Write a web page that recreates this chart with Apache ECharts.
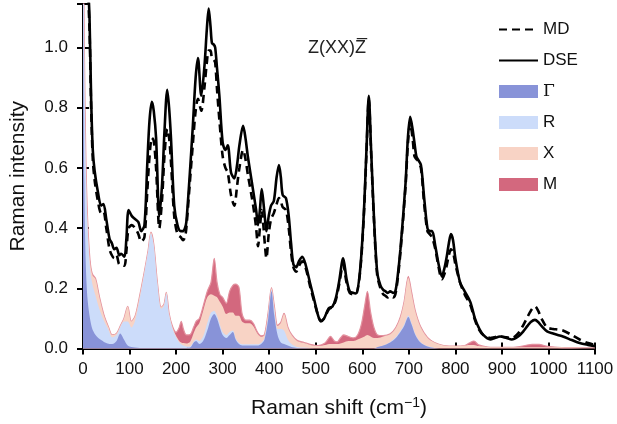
<!DOCTYPE html>
<html>
<head>
<meta charset="utf-8">
<script src="https://cdn.jsdelivr.net/npm/echarts@6.0.0/dist/echarts.min.js"></script>
<style>
  html, body { margin: 0; padding: 0; background: #fff; }
  #raman { width: 617px; height: 424px; }
</style>
</head>
<body>
<div id="raman"></div>
<script>
// total spectra (MD / DSE), Raman shift in cm^-1
var ramanShift = [5, 10, 14, 17.5, 21, 25, 32, 39, 44, 50, 57, 62, 67, 72, 78, 82, 89, 93, 98, 105,
  112, 119, 125, 132, 138, 143, 148, 152, 157, 164, 170, 175, 181, 185, 189, 196, 203, 210, 215, 219,
  222, 229, 236, 242, 247, 254, 261, 266, 270, 274, 277, 281, 284, 288, 293, 300, 306, 311, 318, 325,
  331, 336, 344, 349, 354, 363, 368, 372, 376, 380, 384, 388, 391, 394, 399, 404, 410, 416, 421, 425,
  429, 436, 442, 447, 452, 458, 464, 471, 478, 489, 496, 505, 511, 518, 528, 536, 543, 550, 559, 566,
  573, 580, 586, 595, 603, 609, 614, 619, 625, 632, 639, 645, 650, 655, 660, 666, 671, 676, 682, 693,
  698, 703, 708, 712, 716, 719, 726, 733, 740, 745, 750, 757, 764, 771, 777, 782, 786, 790.5, 795, 800,
  810, 820, 832, 842, 850, 860, 875, 885, 896, 910, 921, 935, 946, 955, 962, 971, 978, 985, 997, 1010,
  1020, 1031, 1050, 1067, 1085, 1100];
var dse = [1.6, 1.25, 1.1, 0.83, 0.66, 0.59, 0.52, 0.475, 0.48, 0.43, 0.365, 0.35, 0.33, 0.335, 0.31, 0.315, 0.305, 0.36, 0.46, 0.44,
  0.43, 0.42, 0.39, 0.41, 0.61, 0.76, 0.82, 0.79, 0.70, 0.44, 0.55, 0.72, 0.86, 0.80, 0.70, 0.475, 0.41, 0.39, 0.39, 0.40,
  0.42, 0.57, 0.74, 0.90, 0.965, 0.84, 0.94, 1.06, 1.13, 1.07, 1.015, 1.01, 1.0, 0.93, 0.84, 0.685, 0.66, 0.675, 0.585, 0.565,
  0.61, 0.675, 0.74, 0.70, 0.64, 0.55, 0.50, 0.46, 0.41, 0.46, 0.53, 0.48, 0.43, 0.39, 0.44, 0.475, 0.49, 0.57, 0.61, 0.57,
  0.51, 0.50, 0.44, 0.35, 0.28, 0.27, 0.29, 0.305, 0.28, 0.21, 0.167, 0.11, 0.09, 0.10, 0.134, 0.14, 0.167, 0.22, 0.30, 0.233,
  0.19, 0.185, 0.183, 0.255, 0.44, 0.66, 0.84, 0.66, 0.44, 0.255, 0.21, 0.195, 0.19, 0.185, 0.19, 0.185, 0.19, 0.24, 0.33, 0.55,
  0.70, 0.77, 0.73, 0.685, 0.64, 0.63, 0.61, 0.50, 0.40, 0.39, 0.39, 0.34, 0.28, 0.24, 0.27, 0.31, 0.35, 0.38, 0.36, 0.30,
  0.22, 0.19, 0.155, 0.10, 0.07, 0.045, 0.03, 0.035, 0.04, 0.035, 0.03, 0.04, 0.057, 0.075, 0.088, 0.095, 0.088, 0.075, 0.057, 0.05,
  0.045, 0.04, 0.028, 0.018, 0.012, 0.008];
var md = [1.6, 1.22, 1.06, 0.80, 0.63, 0.56, 0.49, 0.45, 0.455, 0.40, 0.33, 0.31, 0.30, 0.31, 0.28, 0.28, 0.275, 0.32, 0.40, 0.41,
  0.40, 0.38, 0.355, 0.37, 0.52, 0.64, 0.70, 0.69, 0.60, 0.40, 0.50, 0.64, 0.73, 0.70, 0.62, 0.44, 0.38, 0.37, 0.36, 0.37,
  0.40, 0.54, 0.68, 0.79, 0.83, 0.79, 0.87, 0.95, 0.99, 0.99, 0.965, 0.96, 0.95, 0.86, 0.76, 0.64, 0.60, 0.585, 0.51, 0.475,
  0.54, 0.60, 0.66, 0.63, 0.58, 0.50, 0.45, 0.40, 0.34, 0.40, 0.46, 0.40, 0.34, 0.30, 0.38, 0.43, 0.45, 0.48, 0.50, 0.49,
  0.47, 0.46, 0.40, 0.32, 0.27, 0.255, 0.275, 0.29, 0.27, 0.20, 0.16, 0.11, 0.092, 0.10, 0.13, 0.138, 0.16, 0.21, 0.28, 0.22,
  0.185, 0.18, 0.18, 0.25, 0.43, 0.65, 0.83, 0.65, 0.43, 0.245, 0.20, 0.18, 0.175, 0.17, 0.175, 0.17, 0.18, 0.23, 0.32, 0.54,
  0.68, 0.75, 0.70, 0.64, 0.63, 0.625, 0.60, 0.48, 0.39, 0.38, 0.37, 0.33, 0.27, 0.23, 0.25, 0.28, 0.31, 0.33, 0.32, 0.28,
  0.22, 0.18, 0.145, 0.095, 0.065, 0.045, 0.035, 0.038, 0.04, 0.037, 0.035, 0.05, 0.078, 0.105, 0.125, 0.14, 0.125, 0.10, 0.07, 0.065,
  0.063, 0.06, 0.045, 0.03, 0.018, 0.012];

// q-point resolved contributions, shared shift grid (drawn cumulatively)
var modeShift = [0, 3, 6, 10, 15, 20, 27, 35, 45, 55, 63, 72, 80, 88, 96, 104, 112, 122, 132, 140,
  146, 152, 160, 168, 174, 179, 185, 192, 200, 206, 211, 216, 222, 230, 238, 243, 250, 258, 267, 275,
  282, 288, 294, 300, 308, 315, 322, 328, 335, 342, 350, 358, 366, 375, 383, 390, 398, 405, 411, 418,
  425, 432, 440, 448, 460, 475, 490, 505, 520, 532, 540, 546, 553, 560, 570, 581, 590, 598, 605, 611,
  618, 625, 633, 645, 660, 672, 682, 690, 699, 706, 714, 725, 740, 755, 775, 800, 820, 830, 840, 850,
  870, 900, 930, 950, 965, 980, 995, 1020, 1050, 1100];
var gammaPt = [1.2, 0.55, 0.28, 0.16, 0.10, 0.065, 0.045, 0.032, 0.022, 0.016, 0.015, 0.025, 0.05, 0.03, 0.01, 0.005, 0.003, 0.002, 0.002, 0.002,
  0.002, 0.002, 0.002, 0.002, 0.002, 0.002, 0.002, 0.002, 0.002, 0.002, 0.002, 0.002, 0.002, 0.003, 0.02, 0.025, 0.015, 0.025, 0.06, 0.10,
  0.115, 0.10, 0.07, 0.045, 0.035, 0.045, 0.055, 0.03, 0.015, 0.01, 0.01, 0.01, 0.01, 0.01, 0.015, 0.03, 0.10, 0.19, 0.11, 0.045,
  0.02, 0.015, 0.01, 0.005, 0.002, 0.001, 0, 0, 0, 0, 0, 0, 0, 0, 0, 0, 0, 0, 0, 0,
  0, 0, 0.005, 0.01, 0.02, 0.035, 0.055, 0.075, 0.105, 0.08, 0.045, 0.02, 0.007, 0.002, 0, 0, 0, 0, 0, 0,
  0, 0, 0, 0, 0, 0, 0, 0, 0, 0];
var rPt = [0.30, 0.40, 0.33, 0.24, 0.17, 0.15, 0.13, 0.10, 0.07, 0.045, 0.022, 0.02, 0.02, 0.06, 0.08, 0.065, 0.09, 0.165, 0.25, 0.32,
  0.38, 0.34, 0.21, 0.13, 0.14, 0.18, 0.11, 0.065, 0.035, 0.02, 0.012, 0.008, 0.005, 0.004, 0.004, 0.005, 0.01, 0.015, 0.025, 0.02,
  0.01, 0.01, 0.01, 0.01, 0.01, 0.01, 0.005, 0.004, 0.004, 0.004, 0.004, 0.004, 0.004, 0.004, 0.004, 0.005, 0.01, 0.005, 0.02, 0.02,
  0.045, 0.045, 0.02, 0.01, 0.003, 0.002, 0.001, 0, 0, 0, 0, 0, 0, 0, 0, 0, 0, 0, 0, 0,
  0, 0, 0, 0, 0.002, 0.003, 0.004, 0.005, 0.005, 0.004, 0.003, 0.002, 0.001, 0, 0, 0, 0, 0, 0, 0,
  0, 0, 0, 0, 0, 0, 0, 0, 0, 0];
var xPt = [0, 0.02, 0.02, 0.02, 0.02, 0.03, 0.055, 0.04, 0.018, 0.01, 0.008, 0.005, 0.005, 0.01, 0.05, 0.02, 0.015, 0.01, 0.005, 0.005,
  0.005, 0.005, 0.005, 0.005, 0.005, 0.005, 0.005, 0.005, 0.005, 0.005, 0.006, 0.008, 0.01, 0.015, 0.028, 0.04, 0.06, 0.085, 0.085, 0.06,
  0.05, 0.06, 0.075, 0.085, 0.07, 0.065, 0.06, 0.075, 0.09, 0.075, 0.07, 0.07, 0.06, 0.035, 0.02, 0.01, 0.01, 0.005, 0.01, 0.01,
  0.02, 0.055, 0.04, 0.03, 0.02, 0.015, 0.01, 0.008, 0.012, 0.015, 0.015, 0.015, 0.017, 0.02, 0.025, 0.025, 0.03, 0.035, 0.04, 0.045,
  0.04, 0.035, 0.03, 0.03, 0.025, 0.03, 0.045, 0.075, 0.125, 0.10, 0.075, 0.05, 0.028, 0.018, 0.01, 0.008, 0.01, 0.012, 0.012, 0.008,
  0.005, 0.004, 0.004, 0.004, 0.004, 0.004, 0.004, 0.004, 0.003, 0.002];
var mPt = [0, 0.01, 0.01, 0.005, 0.005, 0.003, 0.003, 0.002, 0.002, 0, 0, 0, 0, 0, 0, 0, 0, 0, 0, 0,
  0, 0, 0, 0, 0, 0, 0, 0.003, 0.012, 0.04, 0.07, 0.045, 0.028, 0.024, 0.02, 0.02, 0.015, 0.015, 0.02, 0.04,
  0.125, 0.05, 0.025, 0.03, 0.035, 0.07, 0.09, 0.105, 0.095, 0.025, 0.01, 0.01, 0.01, 0.005, 0.003, 0.002, 0.002, 0.002, 0.002, 0.002,
  0.002, 0.002, 0.002, 0.002, 0.002, 0.002, 0.002, 0.002, 0.006, 0.025, 0.01, 0.007, 0.018, 0.025, 0.015, 0.01, 0.015, 0.045, 0.10, 0.145,
  0.08, 0.035, 0.01, 0.003, 0.002, 0.002, 0.002, 0.002, 0.005, 0.003, 0.002, 0.002, 0.001, 0, 0, 0, 0, 0.006, 0.013, 0.004,
  0, 0, 0.001, 0.006, 0.01, 0.01, 0.004, 0, 0, 0];

var xTicks = [0, 100, 200, 300, 400, 500, 600, 700, 800, 900, 1000, 1100];
var yTicks = [0.0, 0.2, 0.4, 0.6, 0.8, 1.0];

var font = 'Liberation Sans';
var colGamma = '#8893d8', colR = '#ccdcfa', colX = '#f8d3c5', colM = '#d3687e';

// running sums: each layer is drawn from zero, upper layers underneath
var cumG = gammaPt.slice();
var cumR = cumG.map(function (v, i) { return v + rPt[i]; });
var cumX = cumR.map(function (v, i) { return v + xPt[i]; });
var cumM = cumX.map(function (v, i) { return v + mPt[i]; });

function pairs(xs, ys) {
  return xs.map(function (x, i) { return [x, ys[i]]; });
}

function layer(name, vals, color, z, edge) {
  return {
    name: name,
    type: 'line',
    smooth: 0.3,
    symbol: 'none',
    z: z,
    data: pairs(modeShift, vals),
    itemStyle: { color: color },
    lineStyle: edge ? { color: '#e3919e', width: 1.2 } : { width: 0 },
    areaStyle: { color: color, opacity: 1, origin: 'start' }
  };
}

var frameAxis = {
  axisLine: { lineStyle: { color: '#000', width: 2 } },
  axisTick: { inside: true, length: 6, lineStyle: { color: '#000', width: 2 } },
  splitLine: { show: false }
};

var chart = echarts.init(document.getElementById('raman'));
chart.setOption({
  animation: false,
  textStyle: { fontFamily: font },
  grid: { left: 81, right: 22, top: 4, bottom: 74 },
  legend: {
    orient: 'vertical',
    left: 493,
    top: 16,
    itemWidth: 39,
    itemHeight: 13,
    itemGap: 14,
    textStyle: {
      fontFamily: font, fontSize: 17, color: '#111',
      rich: { g: { fontFamily: 'DejaVu Serif', fontSize: 17, color: '#111' } }
    },
    formatter: function (n) { return n === 'Γ' ? '{g|Γ}' : n; },
    data: [
      { name: 'MD', itemStyle: { opacity: 0 } },
      { name: 'DSE', itemStyle: { opacity: 0 } },
      { name: 'Γ', icon: 'rect', itemStyle: { color: colGamma, borderWidth: 0 } },
      { name: 'R', icon: 'rect', itemStyle: { color: colR, borderWidth: 0 } },
      { name: 'X', icon: 'rect', itemStyle: { color: colX, borderWidth: 0 } },
      { name: 'M', icon: 'rect', itemStyle: { color: colM, borderWidth: 0 } }
    ]
  },
  graphic: [{
    type: 'text',
    left: 308,
    top: 39,
    z: 100,
    style: { text: 'Z(XX)Z\u0305', font: '18px "Liberation Sans"', fill: '#222' }
  }],
  xAxis: [
    Object.assign({
      type: 'value', position: 'bottom', min: xTicks[0], max: xTicks[xTicks.length - 1], interval: 100,
      axisLabel: { fontSize: 17, color: '#111', margin: 12, formatter: function (v) { return String(v); } },
      name: 'Raman shift (cm{sup|−1})',
      nameLocation: 'middle',
      nameGap: 48,
      nameTextStyle: {
        fontSize: 21, color: '#111',
        rich: { sup: { fontSize: 14, color: '#111', verticalAlign: 'top', padding: [0, 0, 10, 0] } }
      }
    }, frameAxis),
    Object.assign({
      type: 'value', position: 'top', min: xTicks[0], max: xTicks[xTicks.length - 1], interval: 100,
      axisLabel: { show: false }
    }, frameAxis)
  ],
  yAxis: [
    Object.assign({
      type: 'value', position: 'left', min: 0, max: 1.145, interval: 0.2,
      axisLabel: {
        fontSize: 17, color: '#111', margin: 15,
        formatter: function (v) {
          for (var i = 0; i < yTicks.length; i++) if (Math.abs(v - yTicks[i]) < 1e-6) return v.toFixed(1);
          return '';
        }
      },
      name: 'Raman intensity',
      nameLocation: 'middle',
      nameGap: 54,
      nameTextStyle: { fontSize: 21, color: '#111' }
    }, frameAxis),
    Object.assign({
      type: 'value', position: 'right', min: 0, max: 1.145, interval: 0.2,
      axisLabel: { show: false }
    }, frameAxis)
  ],
  series: [
    layer('M', cumM, colM, 1, true),
    layer('X', cumX, colX, 2, false),
    layer('R', cumR, colR, 3, false),
    layer('Γ', cumG, colGamma, 4, false),
    {
      name: 'MD', type: 'line', smooth: 0.3, symbol: 'none', z: 6,
      data: pairs(ramanShift, md),
      itemStyle: { color: '#000' },
      lineStyle: { color: '#000', width: 2.6, type: [8, 5] }
    },
    {
      name: 'DSE', type: 'line', smooth: 0.3, symbol: 'none', z: 7,
      data: pairs(ramanShift, dse),
      itemStyle: { color: '#000' },
      lineStyle: { color: '#000', width: 2.6 }
    }
  ]
});
</script>
</body>
</html>
